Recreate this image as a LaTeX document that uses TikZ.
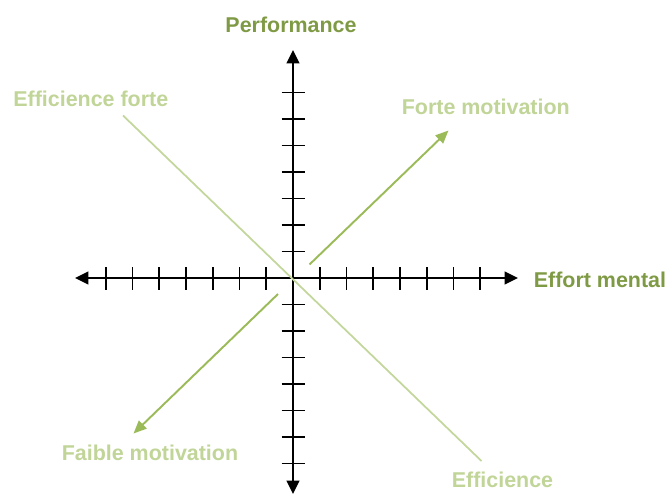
\documentclass[tikz,border=0pt]{standalone}
\usepackage{fontspec}
\setmainfont{Liberation Sans}
\usetikzlibrary{arrows.meta}
\definecolor{titlegreen}{HTML}{7F9A45}
\definecolor{taggreen}{HTML}{C0D597}
\definecolor{arrowgreen}{HTML}{9BBB59}
\definecolor{linegreen}{HTML}{C3D69B}

\begin{document}
\begin{tikzpicture}[
  axis/.style={line width=1.6pt,{Triangle[length=0.27cm,width=0.25cm]}-{Triangle[length=0.27cm,width=0.25cm]}},
  tickmark/.style={line width=0.9pt},
  trend/.style={draw=arrowgreen,line width=1.1pt,-{Triangle[length=0.26cm,width=0.22cm]}},
  diag/.style={draw=linegreen,line width=1pt},
  title/.style={font=\bfseries\fontsize{12.2}{14}\selectfont,text=titlegreen,inner sep=0pt},
  tag/.style={font=\bfseries\fontsize{12.2}{14}\selectfont,text=taggreen,inner sep=0pt,anchor=base west}
]
\useasboundingbox (-5.86,-4.34) rectangle (7.54,5.56);

% axes
\coordinate (xl) at (-4.36,0);
\coordinate (xr) at (4.50,0);
\coordinate (yb) at (0,-4.32);
\coordinate (yt) at (0,4.56);
\draw[axis] (xl) -- (xr);
\draw[axis] (yb) -- (yt);
\foreach \i in {-7,...,-1,1,2,...,7} {
  \draw[tickmark] (\i*0.535,-0.23) -- (\i*0.535,0.23);
  \draw[tickmark] (-0.23,\i*0.53) -- (0.23,\i*0.53);
}

\node[title,anchor=base] (perf) at (-0.04,4.91) {Performance};
\node[title,anchor=base west] (effort) at (4.81,-0.19) {Effort mental};

% tendances
\coordinate (ea) at (-3.40,3.25);
\coordinate (eb) at (3.77,-3.66);
\draw[diag] (ea) -- (eb);
\coordinate (fa) at (0.33,0.27);
\coordinate (fb) at (3.11,2.95);
\draw[trend] (fa) -- (fb);
\coordinate (wa) at (-0.30,-0.32);
\coordinate (wb) at (-3.19,-3.11);
\draw[trend] (wa) -- (wb);

\node[tag] (effforte) at (-5.60,3.43) {Efficience forte};
\node[tag] (forte) at (2.17,3.26) {Forte motivation};
\node[tag] (faible) at (-4.63,-3.64) {Faible motivation};
\node[tag] (eff) at (3.17,-4.19) {Efficience};
\end{tikzpicture}
\end{document}
